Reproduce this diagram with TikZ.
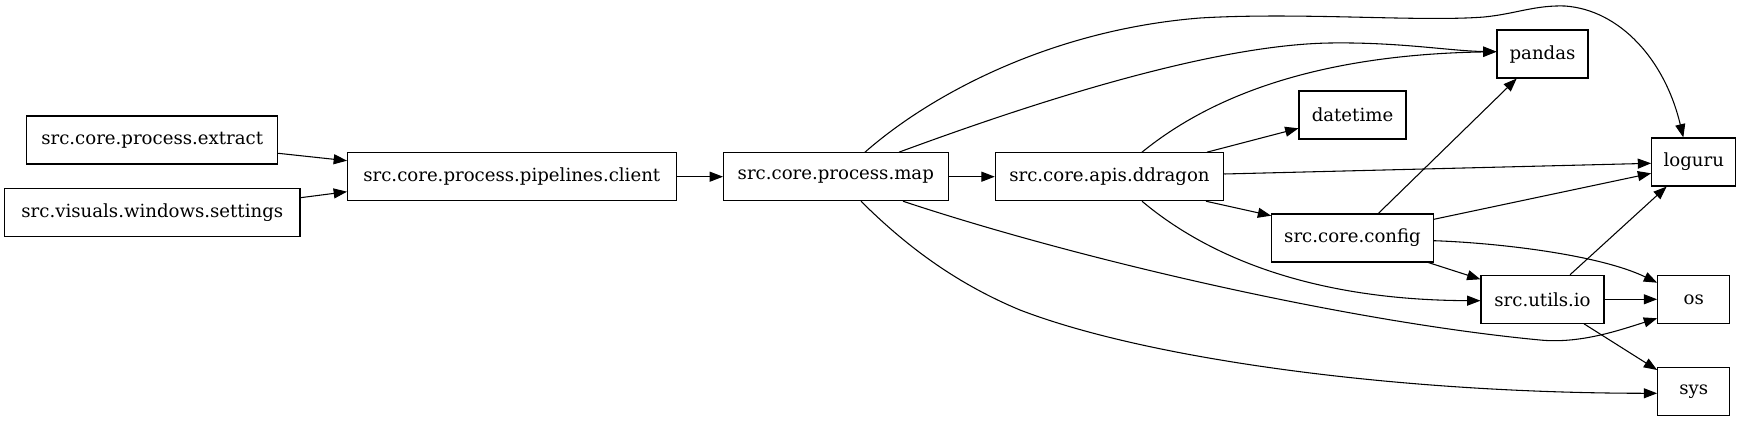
\documentclass[tikz,border=0pt]{standalone}
\usepackage{fontspec}
\setmainfont{DejaVu Serif}
\usetikzlibrary{arrows.meta,calc}
\begin{document}
\begin{tikzpicture}[x=0.75pt,y=-0.75pt,
  box/.style={draw=black, line width=0.8pt, rectangle, minimum height=36pt, inner sep=0pt,
    font=\fontsize{13.6pt}{16pt}\selectfont, anchor=center},
  edge/.style={line width=0.8pt, -{Triangle[length=10pt,width=7.5pt]}}]
\useasboundingbox (0,0) rectangle (1741,421);
\node[box, minimum width=188.25pt] (extract) at (152.2,140) {src.core.process.extract};
\node[box, minimum width=221.5pt] (settings) at (152.3,212.5) {src.visuals.windows.settings};
\node[box, minimum width=246.4pt] (client) at (511.8,176.7) {src.core.process.pipelines.client};
\node[box, minimum width=168.4pt] (map) at (835.8,176.7) {src.core.process.map};
\node[box, minimum width=171.3pt] (ddragon) at (1109.5,176.7) {src.core.apis.ddragon};
\node[box, minimum width=68.25pt] (pandas) at (1542.5,54) {pandas};
\node[box, minimum width=80.25pt] (datetime) at (1352.5,115) {datetime};
\node[box, minimum width=63.2pt] (loguru) at (1693.8,162) {loguru};
\node[box, minimum width=121.2pt] (config) at (1352.5,238) {src.core.config};
\node[box, minimum width=92.25pt] (utils) at (1542.5,299.3) {src.utils.io};
\node[box, minimum width=54.2pt] (os) at (1693.8,299.3) {os};
\node[box, minimum width=54.2pt] (sys) at (1693.8,391.3) {sys};

\draw[edge] ($(extract.east)+(0,13.3)$) -- ($(client.west)+(0,-16)$);
\draw[edge] ($(settings.east)+(0,-14.8)$) -- ($(client.west)+(0,15)$);
\draw[edge] (client.east) -- (map.west);
\draw[edge] (map.east) -- (ddragon.west);
% map -> loguru
\draw[edge] ($(map.north)+(29.2,0)$) .. controls (930,95) and (1050,30) .. (1200,18)
  .. controls (1300,12) and (1420,22) .. (1484,17)
  .. controls (1515,14) and (1535,5) .. (1565,6)
  .. controls (1620,10) and (1665,60) .. ($(loguru.north)+(-10.5,0)$);
% map -> pandas
\draw[edge] ($(map.north)+(63.2,0)$) .. controls (1000,115) and (1200,45) .. (1330,43)
  .. controls (1400,42) and (1450,51) .. ($(pandas.west)+(0,-2.3)$);
% ddragon -> pandas
\draw[edge] ($(ddragon.north)+(32.5,0)$) .. controls (1200,105) and (1300,55) .. ($(pandas.west)+(0,-2.3)$);
\draw[edge] ($(ddragon.north)+(97.5,0)$) -- ($(datetime.west)+(0,13.3)$);
\draw[edge] ($(ddragon.east)+(0,-2.7)$) -- ($(loguru.west)+(0,1.3)$);
\draw[edge] ($(ddragon.south)+(96.5,0)$) -- ($(config.west)+(0,-22.3)$);
% ddragon -> utils
\draw[edge] ($(ddragon.south)+(32.5,0)$) .. controls (1200,250) and (1300,300) .. ($(utils.west)+(0,1.4)$);
% config edges
\draw[edge] ($(config.north)+(25.8,0)$) -- ($(pandas.south)+(-25.8,0)$);
\draw[edge] ($(config.east)+(0,-18.7)$) -- ($(loguru.west)+(0,11.3)$);
\draw[edge] ($(config.east)+(0,2.7)$) .. controls (1500,243) and (1600,255) .. ($(os.west)+(0,-16.6)$);
\draw[edge] ($(config.south)+(75.8,0)$) -- ($(utils.west)+(0,-20)$);
% map -> os
\draw[edge] ($(map.south)+(67.2,0)$) .. controls (1080,260) and (1350,322) .. (1540,340)
  .. controls (1580,344) and (1620,330) .. ($(os.west)+(0,19)$);
% map -> sys
\draw[edge] ($(map.south)+(25.2,0)$) .. controls (910,250) and (960,285) .. (1020,310)
  .. controls (1150,360) and (1400,393) .. ($(sys.west)+(0,2)$);
% utils edges
\draw[edge] ($(utils.north)+(27.5,0)$) -- ($(loguru.south)+(-27.1,0)$);
\draw[edge] (utils.east) -- (os.west);
\draw[edge] ($(utils.south)+(41.5,0)$) -- ($(sys.west)+(0,-21.3)$);
\end{tikzpicture}
\end{document}
